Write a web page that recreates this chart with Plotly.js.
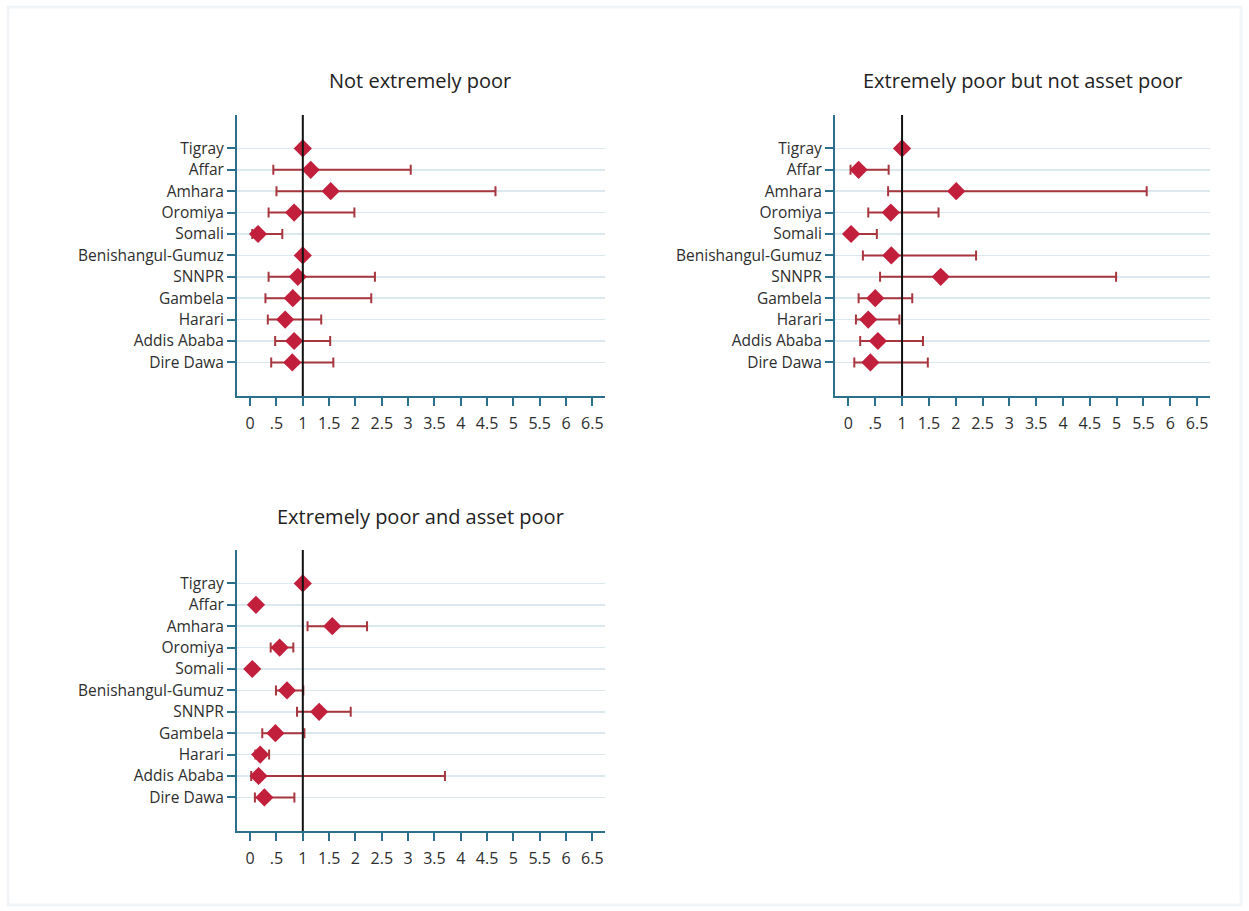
<!DOCTYPE html>
<html>
<head>
<meta charset="utf-8">
<script src="https://cdn.plot.ly/plotly-3.0.1.min.js"></script>
<style>html,body{margin:0;padding:0;background:#fff;}#chart{width:1249px;height:911px;}</style>
</head>
<body>
<div id="chart"></div>
<script>
const regions = ["Tigray","Affar","Amhara","Oromiya","Somali","Benishangul-Gumuz","SNNPR","Gambela","Harari","Addis Ababa","Dire Dawa"];
const panelTitles = ["Not extremely poor","Extremely poor but not asset poor","Extremely poor and asset poor"];
const xTickVals = [0,0.5,1,1.5,2,2.5,3,3.5,4,4.5,5,5.5,6,6.5];
const xTickText = ["0",".5","1","1.5","2","2.5","3","3.5","4","4.5","5","5.5","6","6.5"];

// Panel 1: Not extremely poor
const notPoorEst  = [1.00, 1.15, 1.53, 0.835, 0.15, 1.00, 0.905, 0.81, 0.665, 0.835, 0.80];
const notPoorLow  = [null, 0.44, 0.50, 0.35, 0.04, null, 0.35, 0.29, 0.335, 0.475, 0.40];
const notPoorHigh = [null, 3.05, 4.66, 1.98, 0.61, null, 2.37, 2.30, 1.35, 1.52, 1.58];

// Panel 2: Extremely poor but not asset poor
const epNotAssetEst  = [1.00, 0.19, 2.01, 0.79, 0.05, 0.80, 1.72, 0.50, 0.37, 0.55, 0.41];
const epNotAssetLow  = [null, 0.04, 0.74, 0.37, 0.00, 0.27, 0.59, 0.19, 0.14, 0.22, 0.11];
const epNotAssetHigh = [null, 0.75, 5.56, 1.68, 0.53, 2.38, 4.99, 1.19, 0.95, 1.39, 1.48];

// Panel 3: Extremely poor and asset poor
const epAssetEst  = [1.00, 0.11, 1.56, 0.56, 0.04, 0.70, 1.31, 0.48, 0.19, 0.16, 0.27];
const epAssetLow  = [null, null, 1.09, 0.39, null, 0.49, 0.89, 0.23, 0.10, 0.02, 0.09];
const epAssetHigh = [null, null, 2.22, 0.82, null, 1.01, 1.91, 1.03, 0.36, 3.70, 0.84];

const MARKER = "#c11f3c";
const ERR = "#a8363f";
const AXIS = "#2b6f8c";
const GRID = "#dbe8ee";
const FONT = "Open Sans, sans-serif";
const TXT = "#2e2e2e";

const yIdx = regions.map((_, i) => i);

function trace(est, low, high, xa, ya) {
  const plus = est.map((v, i) => high[i] == null ? NaN : high[i] - v);
  const minus = est.map((v, i) => low[i] == null ? NaN : v - low[i]);
  return {
    type: "scatter", mode: "markers", x: est, y: yIdx, xaxis: xa, yaxis: ya,
    marker: {symbol: "diamond", size: 14, color: MARKER},
    error_x: {type: "data", symmetric: false, array: plus, arrayminus: minus,
              color: ERR, thickness: 2, width: 5},
    showlegend: false, hoverinfo: "x+y"
  };
}

const data = [
  trace(notPoorEst, notPoorLow, notPoorHigh, "x", "y"),
  trace(epNotAssetEst, epNotAssetLow, epNotAssetHigh, "x2", "y2"),
  trace(epAssetEst, epAssetLow, epAssetHigh, "x3", "y3")
];

function xax(domain, anchor) {
  return {domain: domain, anchor: anchor, range: [-0.25, 6.74], tickvals: xTickVals, ticktext: xTickText,
    showline: true, linecolor: AXIS, linewidth: 2, ticks: "outside", ticklen: 8, tickcolor: AXIS, tickwidth: 2,
    ticklabelstandoff: 4,
    showgrid: false, zeroline: false, tickfont: {family: FONT, size: 16, color: TXT}, fixedrange: true};
}
function yax(domain, anchor) {
  return {domain: domain, anchor: anchor, range: [11.57, -1.56], tickvals: yIdx, ticktext: regions,
    showline: true, linecolor: AXIS, linewidth: 2, ticks: "outside", ticklen: 8, tickcolor: AXIS, tickwidth: 2,
    showgrid: true, gridcolor: GRID, gridwidth: 1.5, zeroline: false,
    tickfont: {family: FONT, size: 15.5, color: TXT}, fixedrange: true};
}

const W = 1249, H = 911;
const d1x = [237 / W, 605 / W], d2x = [835 / W, 1210 / W];
const topY = [1 - 396 / H, 1 - 115 / H], botY = [1 - 831 / H, 1 - 550 / H];

function vline(xa, ya) {
  return {type: "line", xref: xa, yref: ya + " domain", x0: 1, x1: 1, y0: 0, y1: 1,
          line: {color: "#111", width: 2}, layer: "above"};
}

const layout = {
  width: W, height: H, margin: {l: 0, r: 0, t: 0, b: 0},
  paper_bgcolor: "#ffffff", plot_bgcolor: "#ffffff",
  font: {family: FONT},
  xaxis: xax(d1x, "y"), yaxis: yax(topY, "x"),
  xaxis2: xax(d2x, "y2"), yaxis2: yax(topY, "x2"),
  xaxis3: xax(d1x, "y3"), yaxis3: yax(botY, "x3"),
  shapes: [
    vline("x", "y"), vline("x2", "y2"), vline("x3", "y3"),
    {type: "rect", xref: "paper", yref: "paper", x0: 8 / W, x1: 1 - 8 / W, y0: 6 / H, y1: 1 - 7 / H,
     line: {color: "#f1f5f7", width: 3}, layer: "below"}
  ],
  annotations: [
    {text: panelTitles[0], xref: "paper", yref: "paper", x: 420 / W, y: 1 - 80 / H, showarrow: false,
     xanchor: "center", yanchor: "middle", font: {family: FONT, size: 20, color: "#222"}},
    {text: panelTitles[1], xref: "paper", yref: "paper", x: 1022 / W, y: 1 - 80 / H, showarrow: false,
     xanchor: "center", yanchor: "middle", font: {family: FONT, size: 20, color: "#222"}},
    {text: panelTitles[2], xref: "paper", yref: "paper", x: 420 / W, y: 1 - 516 / H, showarrow: false,
     xanchor: "center", yanchor: "middle", font: {family: FONT, size: 20, color: "#222"}}
  ]
};

Plotly.newPlot("chart", data, layout, {displayModeBar: false, staticPlot: true});
</script>
</body>
</html>
